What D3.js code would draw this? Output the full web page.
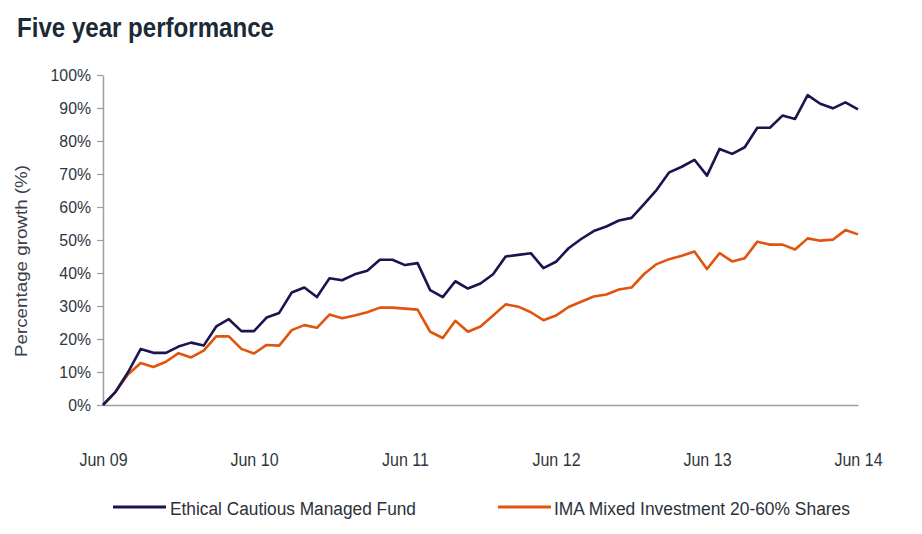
<!DOCTYPE html>
<html>
<head>
<meta charset="utf-8">
<script src="https://cdn.jsdelivr.net/npm/d3@7"></script>
<style>
  html, body { margin: 0; padding: 0; background: #fff; }
  svg { display: block; font-family: "Liberation Sans", Arial, sans-serif; }
</style>
</head>
<body>
<div id="chart"></div>
<script>
// Five year performance: monthly cumulative growth, Jun 09 to Jun 14

const xTickLabels = ['Jun 09', 'Jun 10', 'Jun 11', 'Jun 12', 'Jun 13', 'Jun 14'];
const yTicks = [0, 10, 20, 30, 40, 50, 60, 70, 80, 90, 100];

// % growth, one value per month (61 points)
const ethicalFund = [
  0, 4, 10, 17, 15.8, 15.8, 17.7, 18.9, 18, 23.8,
  26, 22.4, 22.4, 26.5, 27.9, 34.1, 35.6, 32.7, 38.4, 37.8,
  39.6, 40.7, 44, 44, 42.4, 43, 34.8, 32.7, 37.5, 35.3,
  36.8, 39.6, 45, 45.5, 46, 41.5, 43.4, 47.5, 50.3, 52.7,
  54.1, 55.9, 56.7, 60.9, 65.2, 70.5, 72.2, 74.3, 69.5, 77.6,
  76.1, 78.1, 84, 84, 87.7, 86.7, 93.9, 91.3, 89.9, 91.7,
  89.6
];
const imaSector = [
  0, 4, 9.3, 12.7, 11.5, 13.1, 15.7, 14.4, 16.5, 20.8,
  20.8, 17, 15.6, 18.2, 18, 22.7, 24.2, 23.4, 27.4, 26.3,
  27.1, 28.1, 29.5, 29.5, 29.2, 28.9, 22.2, 20.3, 25.5, 22.2,
  23.8, 27.1, 30.5, 29.8, 28.1, 25.7, 27.1, 29.7, 31.3, 32.9,
  33.5, 35, 35.6, 39.7, 42.7, 44.2, 45.2, 46.5, 41.2, 46,
  43.5, 44.5, 49.5, 48.6, 48.6, 47.1, 50.5, 49.8, 50.1, 53,
  51.7
];

const seriesNames = ['Ethical Cautious Managed Fund', 'IMA Mixed Investment 20-60% Shares'];
const seriesColors = ['#1a1450', '#e0540e'];

const W = 922, H = 534;
const plot = { left: 103, right: 858, top: 75, bottom: 405 };

const svg = d3.select('#chart').append('svg')
  .attr('width', W)
  .attr('height', H);

// squeeze a text node horizontally, like the narrow face in the original
function condense(sel, k) {
  sel.each(function () {
    const w = this.getComputedTextLength();
    d3.select(this)
      .attr('textLength', w * k)
      .attr('lengthAdjust', 'spacingAndGlyphs');
  });
}

// Title
svg.append('text')
  .attr('x', 17)
  .attr('y', 37)
  .attr('font-size', 28)
  .attr('font-weight', 'bold')
  .attr('fill', '#1c2a37')
  .attr('textLength', 257)
  .attr('lengthAdjust', 'spacingAndGlyphs')
  .text('Five year performance');

const x = d3.scaleLinear()
  .domain([0, ethicalFund.length - 1])
  .range([plot.left, plot.right]);

const y = d3.scaleLinear()
  .domain([0, 100])
  .range([plot.bottom, plot.top]);

// Y axis
const yAxis = svg.append('g')
  .attr('transform', `translate(${plot.left},0)`)
  .call(d3.axisLeft(y).tickValues(yTicks).tickFormat(d => d + '%').tickSize(6).tickSizeOuter(0));

yAxis.select('.domain').attr('stroke', '#9a9fa3').attr('stroke-width', 1.5);
yAxis.selectAll('.tick line').attr('stroke', '#9a9fa3').attr('stroke-width', 1.2);
yAxis.selectAll('.tick text')
  .attr('x', -12)
  .attr('font-size', 17)
  .attr('font-family', '"Liberation Sans", Arial, sans-serif')
  .attr('fill', '#2f3640')
  .call(condense, 0.93);

// X baseline + labels
const xAxis = svg.append('g')
  .attr('transform', `translate(0,${plot.bottom})`)
  .call(d3.axisBottom(x).tickValues(xTickLabels.map((d, i) => i * 12))
    .tickFormat((d, i) => xTickLabels[i]).tickSize(0).tickSizeOuter(0));

xAxis.select('.domain').attr('stroke', '#9a9fa3').attr('stroke-width', 1.5);
xAxis.selectAll('.tick text')
  .attr('y', 61)
  .attr('dy', 0)
  .attr('font-size', 18)
  .attr('font-family', '"Liberation Sans", Arial, sans-serif')
  .attr('fill', '#2f3640')
  .call(condense, 0.89);

// Y axis label
svg.append('text')
  .attr('transform', `translate(27,261) rotate(-90)`)
  .attr('text-anchor', 'middle')
  .attr('font-size', 16)
  .attr('fill', '#3a4048')
  .attr('textLength', 192)
  .attr('lengthAdjust', 'spacingAndGlyphs')
  .text('Percentage growth (%)');

// Lines
const line = d3.line()
  .x((d, i) => x(i))
  .y(d => y(d));

[imaSector, ethicalFund].forEach((data, k) => {
  const color = k === 0 ? seriesColors[1] : seriesColors[0];
  svg.append('path')
    .datum(data)
    .attr('fill', 'none')
    .attr('stroke', color)
    .attr('stroke-width', 2.6)
    .attr('stroke-linejoin', 'round')
    .attr('d', line);
});

// Legend
const legendItems = [
  { x1: 113, x2: 166, tx: 170, len: 246 },
  { x1: 498, x2: 551, tx: 554, len: 296 }
];
legendItems.forEach((it, i) => {
  svg.append('line')
    .attr('x1', it.x1).attr('x2', it.x2)
    .attr('y1', 507).attr('y2', 507)
    .attr('stroke', seriesColors[i])
    .attr('stroke-width', 3);
  svg.append('text')
    .attr('x', it.tx)
    .attr('y', 515)
    .attr('font-size', 18)
    .attr('fill', '#2b323a')
    .attr('textLength', it.len)
    .attr('lengthAdjust', 'spacingAndGlyphs')
    .text(seriesNames[i]);
});
</script>
</body>
</html>
